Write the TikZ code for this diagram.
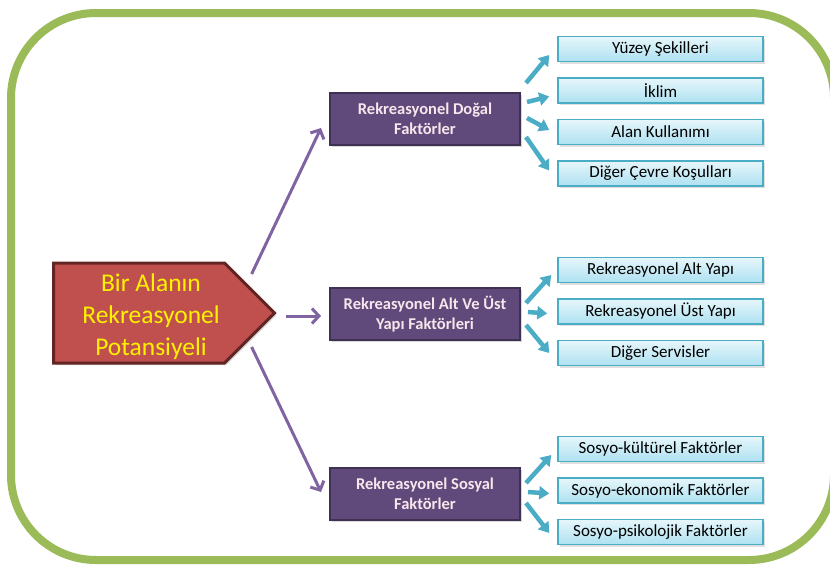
\documentclass[tikz,border=0pt]{standalone}
\usepackage{fontspec}
\setmainfont{Carlito}
\usetikzlibrary{shapes,arrows.meta,positioning,calc,shadows}

\definecolor{framegreen}{HTML}{9BBB59}
\definecolor{rootred}{HTML}{C0504D}
\definecolor{rootborder}{HTML}{632523}
\definecolor{factorpurple}{HTML}{604A7B}
\definecolor{factorborder}{HTML}{3F3151}
\definecolor{arrowpurple}{HTML}{8064A2}
\definecolor{itemteal}{HTML}{4BACC6}
\definecolor{itemtop}{HTML}{E6F6FB}
\definecolor{itembottom}{HTML}{AEE1F1}

\begin{document}
\begin{tikzpicture}[
    x=1pt, y=-1pt,
    root/.style={signal, signal to=east, signal pointer angle=90, fill=rootred, draw=rootborder, line width=3pt,
        minimum width=221pt, minimum height=100pt,
        drop shadow={opacity=0.3, shadow xshift=2pt, shadow yshift=-2pt}},
    roottext/.style={text=yellow, align=center, inner sep=0pt, font=\fontsize{25.5}{32}\selectfont},
    factor/.style={rectangle, fill=factorpurple, draw=factorborder, line width=2pt, text=white!90!purple,
        minimum width=190pt, minimum height=52pt, align=center, font=\bfseries\fontsize{16.5}{20}\selectfont,
        drop shadow={opacity=0.3, shadow xshift=2pt, shadow yshift=-2pt}},
    item/.style={rectangle, top color=itemtop, bottom color=itembottom, draw=itemteal, line width=1.5pt,
        minimum width=205pt, minimum height=25pt, inner sep=0pt, font=\fontsize{17}{20}\selectfont,
        drop shadow={opacity=0.25, shadow xshift=2pt, shadow yshift=-2pt}},
    mainarrow/.style={draw=arrowpurple, line width=3pt, -{Straight Barb[length=7pt,width=15pt]}},
    subarrow/.style={draw=itemteal, line width=4.5pt, -{Triangle[length=10pt,width=13pt]}}
]
    \useasboundingbox (0,0) rectangle (830,568);
    \draw[framegreen, line width=8pt, rounded corners=85pt] (11,13) rectangle (834,560);

    % root
    \node[root] (pot) at (139,313) {};
    \node[roottext] (potlabel) at ($(pot.center)+(12,4)$) {Bir Alanın\\Rekreasyonel\\Potansiyeli};

    % factors
    \node[factor] (dogal) at (425,119) {Rekreasyonel Doğal\\Faktörler};
    \node[factor] (yapi) at (425,314) {Rekreasyonel Alt Ve Üst\\Yapı Faktörleri};
    \node[factor] (sosyal) at (425,494) {Rekreasyonel Sosyal\\Faktörler};

    % natural factors
    \node[item] (yuzey) at (660.5,49) {Yüzey Şekilleri};
    \node[item, below=15pt of yuzey] (iklim) {İklim};
    \node[item, below=15pt of iklim] (alan) {Alan Kullanımı};
    \node[item, below=15pt of alan] (cevre) {Diğer Çevre Koşulları};

    % structure factors
    \node[item] (altyapi) at (660.5,270) {Rekreasyonel Alt Yapı};
    \node[item, below=15pt of altyapi] (ustyapi) {Rekreasyonel Üst Yapı};
    \node[item, below=15pt of ustyapi] (servis) {Diğer Servisler};

    % social factors
    \node[item] (kultur) at (660.5,449) {Sosyo-kültürel Faktörler};
    \node[item, below=15pt of kultur] (ekonomi) {Sosyo-ekonomik Faktörler};
    \node[item, below=15pt of ekonomi] (psiko) {Sosyo-psikolojik Faktörler};

    % arrows from root
    \draw[mainarrow] ($(pot.east)+(-25,-39)$) -- ($(dogal.west)+(-8,9)$);
    \draw[mainarrow] ($(pot.east)+(9,3)$) -- ($(yapi.west)+(-8,2)$);
    \draw[mainarrow] ($(pot.east)+(-25,34)$) -- ($(sosyal.west)+(-8,-2)$);

    % arrows to items
    \draw[subarrow] ($(dogal.east)+(5,-36)$) -- ($(yuzey.west)+(-8,6)$);
    \draw[subarrow] ($(dogal.east)+(6,-17)$) -- ($(iklim.west)+(-8,6)$);
    \draw[subarrow] ($(dogal.east)+(6,-1)$) -- ($(alan.west)+(-8,-2)$);
    \draw[subarrow] ($(dogal.east)+(5,18)$) -- ($(cevre.west)+(-8,-3)$);

    \draw[subarrow] ($(yapi.east)+(5,-11)$) -- ($(altyapi.west)+(-6,5)$);
    \draw[subarrow] ($(yapi.east)+(7,-2)$) -- ($(ustyapi.west)+(-10,2)$);
    \draw[subarrow] ($(yapi.east)+(5,11)$) -- ($(servis.west)+(-8,0)$);

    \draw[subarrow] ($(sosyal.east)+(5,-11)$) -- ($(kultur.west)+(-6,6)$);
    \draw[subarrow] ($(sosyal.east)+(7,-2)$) -- ($(ekonomi.west)+(-8,3)$);
    \draw[subarrow] ($(sosyal.east)+(5,9)$) -- ($(psiko.west)+(-8,1)$);
\end{tikzpicture}
\end{document}
